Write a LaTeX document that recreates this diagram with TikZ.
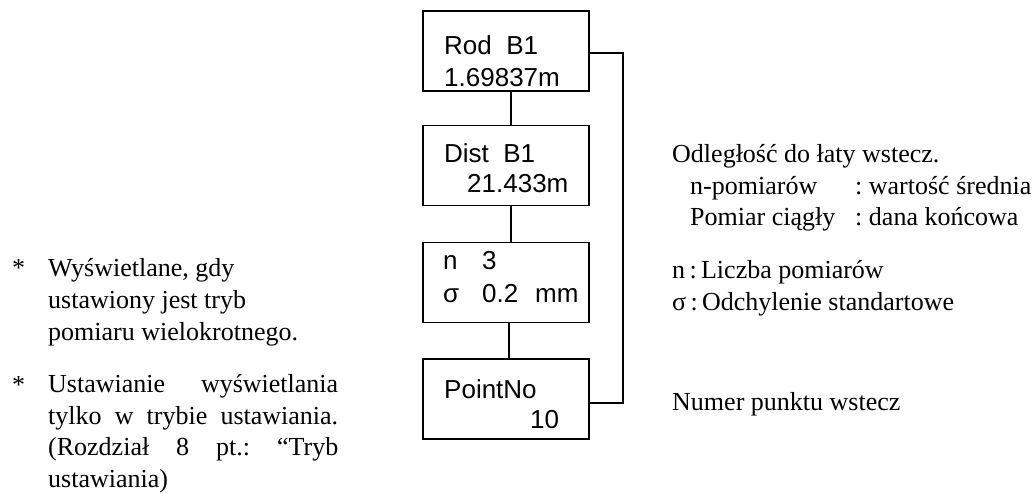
\documentclass[tikz,border=0pt]{standalone}
\usepackage{fontspec}
\setmainfont{Liberation Serif}
\newfontfamily\dispfont{Liberation Sans}
\usepackage{tikz}
\usetikzlibrary{positioning,calc}
\frenchspacing

\begin{document}
\begin{tikzpicture}[x=1pt,y=-1pt,
  dispbox/.style={draw,line width=1.5pt,minimum width=166pt,minimum height=80pt,inner sep=0pt},
  disptext/.style={anchor=base west,inner sep=0pt,font=\dispfont\fontsize{26}{31.5}\selectfont},
  note/.style={anchor=base west,inner sep=0pt,font=\fontsize{26}{31.5}\selectfont},
  link/.style={line width=1.5pt}]
\useasboundingbox (0,0) rectangle (1036,494);

% display screens
\node[dispbox] (rod) at (506,51) {};
\node[dispbox] (dist) at (506,165.5) {};
\node[dispbox] (nsig) at (506,282.5) {};
\node[dispbox] (pno) at (506,399) {};

\node[disptext] (rodname) at (444,55) {Rod\ \ B1};
\node[disptext] (rodval) at (444,87) {1.69837m};
\node[disptext] (distname) at (444,163) {Dist\ \ B1};
\node[disptext] (distval) at (467,193) {21.433m};
\node[disptext] (nval) at (443,270) {\makebox[39pt][l]{n}3};
\node[disptext] (sigval) at (443,303) {\makebox[39pt][l]{σ}\makebox[53pt][l]{0.2}mm};
\node[disptext] (pnoname) at (444,398) {PointNo};
\node[disptext] (pnoval) at (530,428) {10};

\draw[link] ([xshift=5pt]rod.south) -- ([xshift=5pt]dist.north);
\draw[link] ([xshift=5pt]dist.south) -- ([xshift=5pt]nsig.north);
\draw[link] ([xshift=3pt]nsig.south) -- ([xshift=3pt]pno.north);
\draw[link] ([yshift=-2pt]rod.east) -- ++(33,0) |- ([yshift=-4pt]pno.east);

% notes on the left (base = last line)
\node[note] (star1) at (12,277) {*};
\node[note,align=left] (bul1) at (48,340) {Wyświetlane, gdy\\ustawiony jest tryb\\pomiaru wielokrotnego.};
\node[note] (star2) at (12,393) {*};
\node[note,align=left] (bul2) at (48,487) {\makebox[290pt][s]{Ustawianie wyświetlania}\\
  \makebox[290pt][s]{tylko w trybie ustawiania.}\\
  \makebox[290pt][s]{(Rozdział 8 pt.: “Tryb}\\ustawiania)};

% notes on the right
\node[note] (odl) at (672,163) {Odległość do łaty wstecz.};
\node[note,align=left] (tryb) at (690,226) {\makebox[165pt][l]{n-pomiarów}: wartość średnia\\
  \makebox[165pt][l]{Pomiar ciągły}: dana końcowa};
\node[note] (nliczba) at (672,279) {n\,:\,Liczba pomiarów};
\node[note] (sigma) at (672,311) {σ\,:\,Odchylenie standartowe};
\node[note] (numer) at (672,410) {Numer punktu wstecz};
\end{tikzpicture}
\end{document}
